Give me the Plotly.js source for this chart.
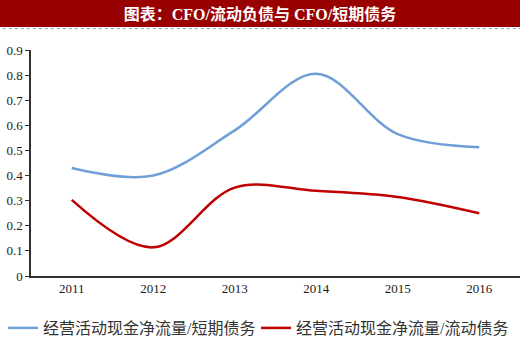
<!DOCTYPE html>
<html><head><meta charset="utf-8">
<script src="https://cdn.plot.ly/plotly-3.0.1.min.js"></script>
<style>html,body{margin:0;padding:0;background:#fff}#c{width:520px;height:350px}</style>
</head><body><div id="c"></div>
<script>
var years = [2011, 2012, 2013, 2014, 2015, 2016];
var cfoShortDebt = [0.43, 0.40, 0.58, 0.805, 0.565, 0.513];
var cfoCurrentLiab = [0.303, 0.114, 0.352, 0.339, 0.315, 0.25];
var seriesNames = ['经营活动现金净流量/短期债务', '经营活动现金净流量/流动债务'];
var yTicks = [0, 0.1, 0.2, 0.3, 0.4, 0.5, 0.6, 0.7, 0.8, 0.9];
var yTickText = ['0', '0.1', '0.2', '0.3', '0.4', '0.5', '0.6', '0.7', '0.8', '0.9'];
var titleText = '图表：CFO/流动负债与 CFO/短期债务';

var traces = [
  {x: years, y: cfoShortDebt, name: seriesNames[0], type: 'scatter', mode: 'lines', legend: 'legend',
   line: {color: '#6F9FD6', width: 2.5, shape: 'spline', smoothing: 1}},
  {x: years, y: cfoCurrentLiab, name: seriesNames[1], type: 'scatter', mode: 'lines', legend: 'legend2',
   line: {color: '#C00000', width: 2.5, shape: 'spline', smoothing: 1}}
];
var legFont = {family: '"Liberation Serif", "Noto Sans CJK SC", serif', size: 16, color: '#333'};
var layout = {
  width: 520, height: 350,
  margin: {l: 31, r: 0, t: 50, b: 74, autoexpand: false},
  paper_bgcolor: '#fff', plot_bgcolor: '#fff',
  showlegend: true,
  title: {text: '<b>' + titleText + '</b>', x: 0.5, xref: 'container', xanchor: 'center',
          y: 1 - 14/350, yref: 'container', yanchor: 'middle', automargin: false,
          font: {family: '"Liberation Serif", "Noto Sans CJK SC", serif', size: 16, color: '#fff'}},
  xaxis: {range: [2010.5, 2016.5], tickvals: years, ticktext: years.map(String),
          showgrid: false, zeroline: false, showline: true, linecolor: '#303030', linewidth: 1.6,
          ticks: '', tickfont: {family: '"Liberation Serif", serif', size: 13, color: '#1a1a1a'}},
  yaxis: {range: [0, 0.9], tickvals: yTicks, ticktext: yTickText, showgrid: false, zeroline: false,
          showline: true, linecolor: '#303030', linewidth: 1.6, ticks: 'outside', ticklen: 4,
          tickcolor: '#303030',
          tickfont: {family: '"Liberation Serif", serif', size: 13, color: '#1a1a1a'}},
  legend: {orientation: 'h', x: 3/520, xanchor: 'left', xref: 'container',
           y: 1 - 328/350, yanchor: 'middle', yref: 'container',
           font: legFont, itemwidth: 30, bgcolor: 'rgba(0,0,0,0)'},
  legend2: {orientation: 'h', x: 256/520, xanchor: 'left', xref: 'container',
           y: 1 - 328/350, yanchor: 'middle', yref: 'container',
           font: legFont, itemwidth: 30, bgcolor: 'rgba(0,0,0,0)'},
  shapes: [
    {type: 'rect', xref: 'paper', yref: 'paper', x0: -0.07, x1: 1.0, y0: 1.1018, y1: 1.5,
     fillcolor: '#990000', line: {width: 0}, layer: 'below'},
    {type: 'line', xref: 'paper', yref: 'paper', x0: -0.07, x1: 1.0, y0: 1.095, y1: 1.095,
     line: {color: '#9999bb', width: 1, dash: 'dot'}}
  ]
};
Plotly.newPlot('c', traces, layout, {displayModeBar: false, staticPlot: true});
</script></body></html>
